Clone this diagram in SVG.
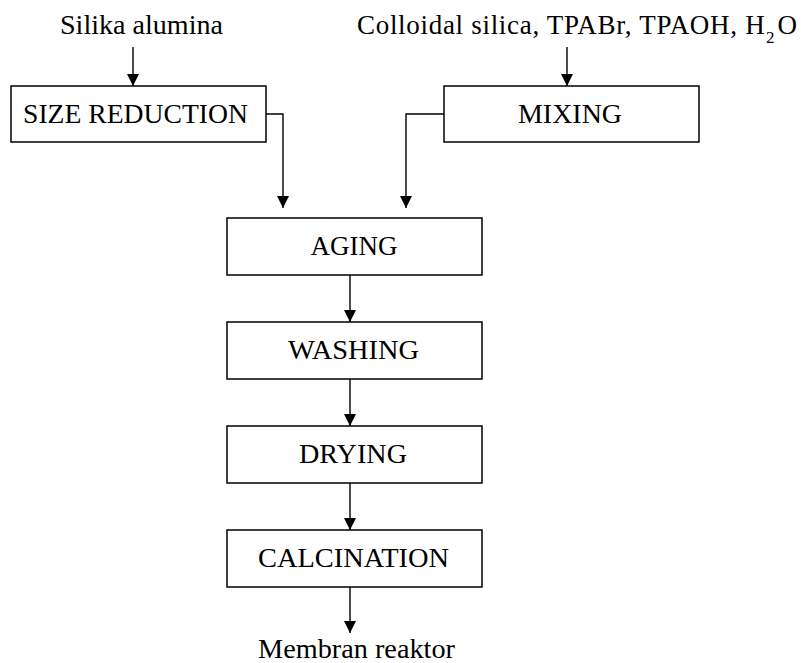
<svg xmlns="http://www.w3.org/2000/svg" width="803" height="663" viewBox="0 0 803 663">
<style>
.box{fill:#fff;stroke:#000;stroke-width:1.5}
.lbl{font-family:"Liberation Serif","Times New Roman",serif;font-size:27px;fill:#000}
.mid{text-anchor:middle}
.con{fill:none;stroke:#000;stroke-width:1.4}
</style>
<defs>
<marker id="ah" markerUnits="userSpaceOnUse" markerWidth="12" markerHeight="12" refX="12" refY="6" orient="auto">
<path d="M0,0 L12,6 L0,12 z" fill="#000"/>
</marker>
</defs>
<rect width="803" height="663" fill="#fff"/>
<g id="input-silika"><text class="lbl mid" x="141.5" y="34" textLength="163" lengthAdjust="spacingAndGlyphs">Silika alumina</text></g>
<g id="input-colloidal">
<text class="lbl" x="357" y="34" font-size="28" letter-spacing="0.7">Colloidal silica, TPABr, TPAOH, H<tspan x="766" y="43" font-size="17" letter-spacing="0">2</tspan><tspan x="777.5" y="34" letter-spacing="0">O</tspan></text>
</g>
<g id="size-reduction"><rect class="box" x="11" y="86" width="255" height="56"/><text class="lbl mid" x="135.5" y="123" textLength="225" lengthAdjust="spacingAndGlyphs">SIZE REDUCTION</text></g>
<g id="mixing"><rect class="box" x="444" y="86" width="255" height="56"/><text class="lbl mid" x="570" y="123" textLength="104" lengthAdjust="spacingAndGlyphs">MIXING</text></g>
<g id="aging"><rect class="box" x="227" y="218" width="255" height="57"/><text class="lbl mid" x="354" y="255" textLength="87" lengthAdjust="spacingAndGlyphs">AGING</text></g>
<g id="washing"><rect class="box" x="227" y="322" width="255" height="57"/><text class="lbl mid" x="353.5" y="359" textLength="131" lengthAdjust="spacingAndGlyphs">WASHING</text></g>
<g id="drying"><rect class="box" x="227" y="426" width="255" height="57"/><text class="lbl mid" x="353" y="463" textLength="108" lengthAdjust="spacingAndGlyphs">DRYING</text></g>
<g id="calcination"><rect class="box" x="227" y="530" width="255" height="57"/><text class="lbl mid" x="353.5" y="567" textLength="191" lengthAdjust="spacingAndGlyphs">CALCINATION</text></g>
<g id="output"><text class="lbl mid" x="356.5" y="658" textLength="197" lengthAdjust="spacingAndGlyphs">Membran reaktor</text></g>
<g id="connectors">
<path class="con" d="M133,47 V86" marker-end="url(#ah)"/>
<path class="con" d="M567,47 V86" marker-end="url(#ah)"/>
<path class="con" d="M266,114 H283 V208" marker-end="url(#ah)"/>
<path class="con" d="M444,114 H406 V208" marker-end="url(#ah)"/>
<path class="con" d="M350,275 V322" marker-end="url(#ah)"/>
<path class="con" d="M350,379 V426" marker-end="url(#ah)"/>
<path class="con" d="M350,483 V530" marker-end="url(#ah)"/>
<path class="con" d="M350,587 V633" marker-end="url(#ah)"/>
</g>
</svg>
